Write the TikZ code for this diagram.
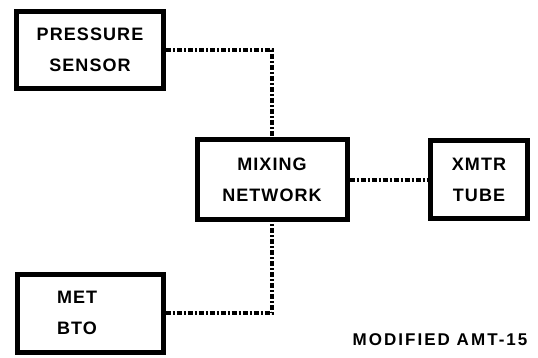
\documentclass[tikz,border=0pt]{standalone}
\usepackage{fontspec}
\setmainfont{Liberation Sans}[LetterSpace=6]
\usetikzlibrary{positioning}

\begin{document}
\begin{tikzpicture}[x=1pt,y=-1pt,
       unit/.style={
         rectangle,
         draw=black,
         line width=5pt,
         inner sep=0pt,
         align=center,
         font=\fontsize{18}{31}\selectfont\bfseries},
       link/.style={
         line width=4pt,
         dash pattern=on 5pt off 2pt on 2pt off 2pt}
      ]
      \useasboundingbox (0,0) rectangle (538,358);

      \node[unit, minimum width=147pt, minimum height=77pt] (PS) at (90,50) {PRESSURE\\SENSOR};
      \node[unit, minimum width=150pt, minimum height=80pt] (MN) at (272,180) {MIXING\\NETWORK};
      \node[unit, minimum width=97pt, minimum height=78pt] (XT) at (479,180) {XMTR\\TUBE};
      \node[unit, minimum width=146pt, minimum height=78pt, align=left,
            text width=66pt, inner xsep=40pt] (MB) at (90,313) {MET\\BTO};

      \node[font=\fontsize{17}{18}\selectfont\bfseries\addfontfeature{LetterSpace=12}] (T) at (440,340) {MODIFIED AMT-15};

      \draw[link] (PS.east) -| (MN.north);
      \draw[link] (MN.east) -- (XT.west);
      \draw[link] (MB.east) -| (MN.south);

\end{tikzpicture}
\end{document}
